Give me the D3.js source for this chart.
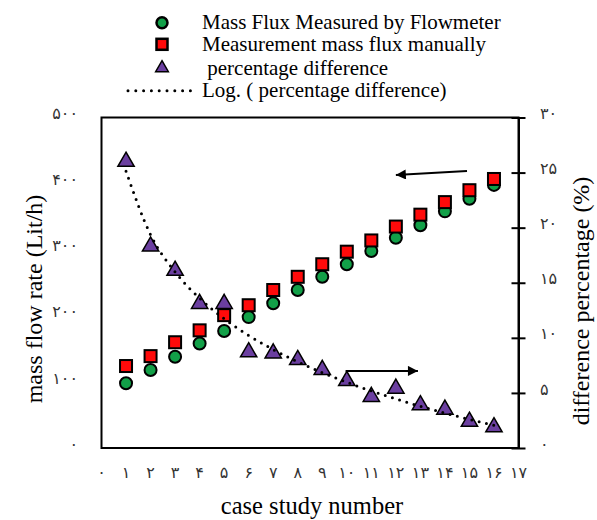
<!DOCTYPE html>
<html>
<head>
<meta charset="utf-8">
<script src="https://cdn.jsdelivr.net/npm/d3@7"></script>
<style>
  body { margin: 0; background: white; }
  svg { display: block; }
  svg text { font-family: "Liberation Serif", "Times New Roman", "DejaVu Serif", serif; }
  svg text.tick-label { font-family: "DejaVu Sans", sans-serif; font-size: 16px; fill: #333; }
</style>
</head>
<body>
<div id="chart"></div>
<script>
// case study numbers
let cases = [1, 2, 3, 4, 5, 6, 7, 8, 9, 10, 11, 12, 13, 14, 15, 16];
// mass flow measured by flowmeter (Lit/h)
let flowmeter = [98, 118, 138, 158, 177, 198, 219, 239, 259, 278, 298, 318, 337, 358, 377, 398];
// mass flow measured manually (Lit/h)
let manual = [124, 139, 160, 178, 201, 216, 239, 259, 278, 297, 314, 335, 353, 372, 390, 407];
// percentage difference (%)
let pctDiff = [26.0, 18.3, 16.1, 13.1, 13.1, 8.7, 8.6, 8.0, 7.1, 6.1, 4.65, 5.4, 3.9, 3.5, 2.4, 1.9];

// tick labels, persian digits
let persian = ["۰", "۱", "۲", "۳", "۴", "۵", "۶", "۷", "۸", "۹"];
function toPersian(n) {
  return String(n).split("").map(function(c){ return persian[+c]; }).join("");
}
let xTicks = d3.range(0, 18);
let yLeftTicks = [0, 100, 200, 300, 400, 500];
let yRightTicks = [0, 5, 10, 15, 20, 25, 30];

let w = 597, h = 520;
let plotLeft = 101.5, plotRight = 518.5, plotTop = 117.5, plotBottom = 448;

let svg = d3.select("#chart").append("svg")
    .attr("width", w)
    .attr("height", h);

let xScale = d3.scaleLinear().domain([0, 17]).range([plotLeft, plotRight]);
let yLeft = d3.scaleLinear().domain([0, 500]).range([plotBottom, plotTop]);
let yRight = d3.scaleLinear().domain([0, 30]).range([plotBottom, plotTop]);

// frame
svg.append("rect")
    .attr("x", plotLeft).attr("y", plotTop)
    .attr("width", plotRight - plotLeft).attr("height", plotBottom - plotTop)
    .attr("fill", "none").attr("stroke", "black").attr("stroke-width", 2);

// right axis with ticks crossing the line
let rightAxis = d3.axisRight(yRight).tickValues(yRightTicks).tickSizeInner(7).tickSizeOuter(0).tickFormat("");
let ra = svg.append("g").attr("transform", "translate(" + plotRight + ",0)").call(rightAxis);
ra.select(".domain").attr("stroke-width", 2);
ra.selectAll(".tick line").attr("x1", -7).attr("stroke-width", 2);

// tick labels
svg.selectAll(".yl").data(yLeftTicks).join("text")
    .attr("class", "tick-label")
    .attr("x", 78).attr("y", function(d){ return yLeft(d); })
    .attr("dy", "0.1em")
    .attr("text-anchor", "end")
    .text(function(d){ return toPersian(d); });

svg.selectAll(".yr").data(yRightTicks).join("text")
    .attr("class", "tick-label")
    .attr("x", 540).attr("y", function(d){ return yRight(d); })
    .attr("dy", "0.1em")
    .attr("text-anchor", "start")
    .text(function(d){ return toPersian(d); });

svg.selectAll(".xt").data(xTicks).join("text")
    .attr("class", "tick-label")
    .attr("x", function(d){ return xScale(d); }).attr("y", 478)
    .attr("text-anchor", "middle")
    .text(function(d){ return toPersian(d); });

// axis titles
svg.append("text")
    .attr("transform", "translate(42,299) rotate(-90)")
    .attr("text-anchor", "middle")
    .attr("font-size", 24)
    .text("mass flow rate (Lit/h)");

svg.append("text")
    .attr("transform", "translate(589,301) rotate(-90)")
    .attr("text-anchor", "middle")
    .attr("font-size", 24)
    .text("difference percentage (%)");

svg.append("text")
    .attr("x", 312).attr("y", 514)
    .attr("text-anchor", "middle")
    .attr("font-size", 24.5)
    .text("case study number");

// logarithmic trendline fitted to the percentage difference
let lnx = cases.map(function(c){ return Math.log(c); });
let mx = d3.mean(lnx), my = d3.mean(pctDiff);
let b = d3.sum(lnx, function(v, i){ return (v - mx) * (pctDiff[i] - my); }) /
        d3.sum(lnx, function(v){ return (v - mx) * (v - mx); });
let a = my - b * mx;
let trend = cases.map(function(c){ return [c, a + b * Math.log(c)]; });

let lineMaker = d3.line()
    .x(function(d){ return xScale(d[0]); })
    .y(function(d){ return yRight(d[1]); })
    .curve(d3.curveMonotoneX);

let green = "#12a048", red = "#ff0a0a", purple = "#6b3fa0";
let sym = d3.symbol();

// flowmeter circles
svg.selectAll(".fm").data(cases).join("circle")
    .attr("cx", function(d){ return xScale(d); })
    .attr("cy", function(d, i){ return yLeft(flowmeter[i]); })
    .attr("r", 6)
    .attr("fill", green).attr("stroke", "black").attr("stroke-width", 2);

// manual squares
svg.selectAll(".mn").data(cases).join("rect")
    .attr("x", function(d){ return xScale(d) - 6; })
    .attr("y", function(d, i){ return yLeft(manual[i]) - 6; })
    .attr("width", 12).attr("height", 12)
    .attr("fill", red).attr("stroke", "black").attr("stroke-width", 2);

// percentage triangles
svg.selectAll(".pd").data(cases).join("path")
    .attr("transform", function(d, i){ return "translate(" + xScale(d) + "," + yRight(pctDiff[i]) + ")"; })
    .attr("d", sym.type(d3.symbolTriangle).size(115)())
    .attr("fill", purple).attr("stroke", "black").attr("stroke-width", 1.5);

svg.append("path")
    .datum(trend)
    .attr("d", lineMaker)
    .attr("fill", "none")
    .attr("stroke", "black")
    .attr("stroke-width", 3)
    .attr("stroke-linecap", "round")
    .attr("stroke-dasharray", "0 7.5");

// annotation arrows
svg.append("defs").append("marker")
    .attr("id", "head")
    .attr("viewBox", "0 0 10 10")
    .attr("refX", 10).attr("refY", 5)
    .attr("markerWidth", 7).attr("markerHeight", 5)
    .attr("markerUnits", "strokeWidth")
    .attr("orient", "auto")
  .append("path").attr("d", "M0,0 L10,5 L0,10 z").attr("fill", "black");

svg.append("line")
    .attr("x1", xScale(14.9)).attr("y1", yLeft(419))
    .attr("x2", xScale(12.0)).attr("y2", yLeft(413))
    .attr("stroke", "black").attr("stroke-width", 2)
    .attr("marker-end", "url(#head)");

svg.append("line")
    .attr("x1", xScale(9.95)).attr("y1", yRight(7.0))
    .attr("x2", xScale(12.9)).attr("y2", yRight(7.0))
    .attr("stroke", "black").attr("stroke-width", 2)
    .attr("marker-end", "url(#head)");

// legend
let legendNames = ["Mass Flux Measured by Flowmeter", "Measurement mass flux manually", " percentage difference", "Log. ( percentage difference)"];
let legendY = [22.7, 44.3, 68, 90.7];
let lg = svg.append("g");

lg.append("circle").attr("cx", 162).attr("cy", legendY[0]).attr("r", 5.5)
    .attr("fill", green).attr("stroke", "black").attr("stroke-width", 2.5);
lg.append("rect").attr("x", 162 - 5.5).attr("y", legendY[1] - 5.5).attr("width", 11).attr("height", 11)
    .attr("fill", red).attr("stroke", "black").attr("stroke-width", 2.5);
lg.append("path").attr("transform", "translate(162," + legendY[2] + ")")
    .attr("d", sym.type(d3.symbolTriangle).size(70)())
    .attr("fill", purple).attr("stroke", "black").attr("stroke-width", 1.5);
lg.append("line").attr("x1", 128).attr("x2", 191).attr("y1", legendY[3]).attr("y2", legendY[3])
    .attr("stroke", "black").attr("stroke-width", 3)
    .attr("stroke-linecap", "round").attr("stroke-dasharray", "0 7.8");

lg.selectAll(".lt").data(legendNames).join("text")
    .attr("x", 202)
    .attr("y", function(d, i){ return legendY[i]; })
    .attr("dy", "0.32em")
    .attr("font-size", 21)
    .style("white-space", "pre")
    .text(function(d){ return d; });
</script>
</body>
</html>
